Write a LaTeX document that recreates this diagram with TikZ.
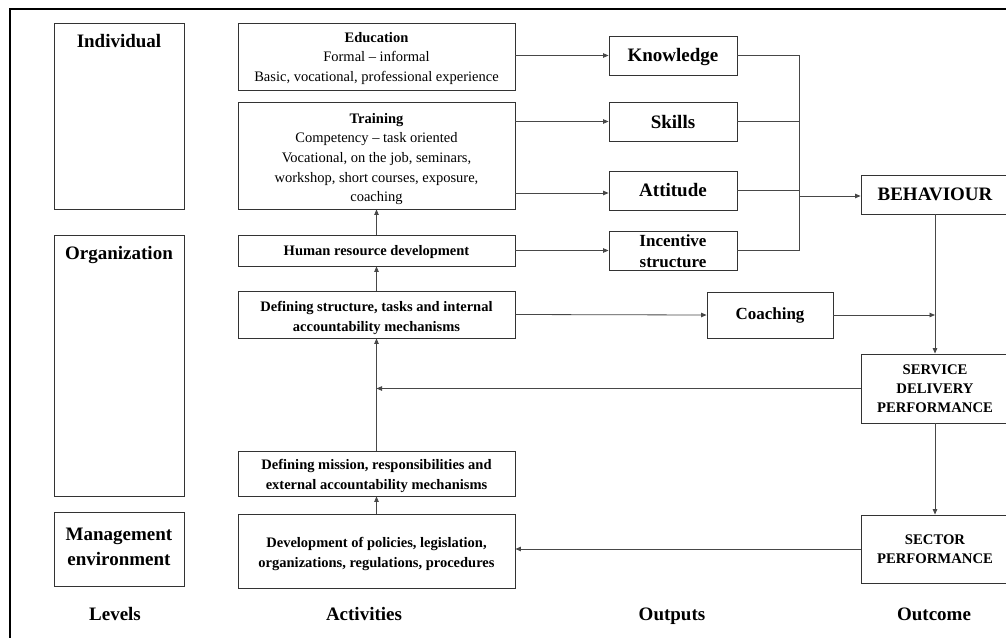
\documentclass[tikz,border=0pt]{standalone}
\usepackage{fontspec}
\setmainfont{Liberation Serif}
\usetikzlibrary{arrows.meta}

% strut that lowers a block of centred lines a little
\newcommand\topstrut[1]{\rule{0pt}{#1}}

\tikzset{
  box/.style={draw=black!80, line width=0.9pt, inner sep=1pt, align=center},
  bodytxt/.style={font=\fontsize{14.5pt}{19.6pt}\selectfont},
  boldtxt/.style={font=\fontsize{14.5pt}{20pt}\selectfont\bfseries},
  bigtxt/.style={font=\fontsize{19pt}{25pt}\selectfont\bfseries},
  midtxt/.style={font=\fontsize{17pt}{21pt}\selectfont\bfseries},
  captxt/.style={font=\fontsize{14.7pt}{19pt}\selectfont\bfseries},
  lvbox/.style={box, minimum width=130pt},
  actbox/.style={box, minimum width=277pt},
  outbox/.style={box, minimum width=128pt, minimum height=39pt},
  endbox/.style={box, minimum width=148pt},
  lvtitle/.style={bigtxt, anchor=north, inner sep=0pt, yshift=-11.5pt},
  conn/.style={draw=black!72, line width=0.8pt},
  arr/.style={conn, -{Triangle[length=5.5pt,width=4.5pt]}},
  frame/.style={draw=black, line width=1.6pt},
  colhead/.style={bigtxt, inner sep=0pt, anchor=base},
}

\begin{document}
\begin{tikzpicture}[x=1pt, y=-1pt]
\useasboundingbox (0,0) rectangle (1006,637);
\clip (0,0) rectangle (1006,637);

% outer frame
\draw[frame] (10,660) -- (10,9) -- (1030,9);

% levels
\node[lvbox, minimum height=186pt,
      label={[lvtitle]north:Individual}] (ind) at (119,116) {};
\node[lvbox, minimum height=261pt,
      label={[lvtitle]north:Organization}] (org) at (119,365.5) {};
\node[lvbox, minimum height=74pt, bigtxt] (mgt) at (119,549.5)
      {Management\\environment\rule[-6pt]{0pt}{6pt}};

% activities
\node[actbox, minimum height=67pt, bodytxt] (edu) at (376.5,56.5)
      {\topstrut{14pt}\textbf{Education}\\Formal -- informal\\Basic, vocational, professional experience};
\node[actbox, minimum height=107pt, bodytxt] (train) at (376.5,155.5)
      {\topstrut{17pt}\textbf{Training}\\Competency -- task oriented\\Vocational, on the job, seminars,\\workshop, short courses, exposure,\\coaching};
\node[actbox, minimum height=31pt, boldtxt] (hrd) at (376.5,250.5)
      {\topstrut{14pt}Human resource development};
\node[actbox, minimum height=47pt, boldtxt] (dstr) at (376.5,314.5)
      {\topstrut{17pt}Defining structure, tasks and internal\\accountability mechanisms};
\node[actbox, minimum height=45pt, boldtxt] (dmis) at (376.5,473.5)
      {\topstrut{16pt}Defining mission, responsibilities and\\external accountability mechanisms};
\node[actbox, minimum height=74pt, boldtxt] (dpol) at (376.5,551)
      {\topstrut{16pt}Development of policies, legislation,\\organizations, regulations, procedures};

% outputs
\node[outbox, bigtxt] (know) at (673,55.5) {\topstrut{17pt}Knowledge};
\node[outbox, bigtxt] (skills) at (673,121.5) {Skills};
\node[outbox, bigtxt] (att) at (673,190.5) {Attitude};
\node[outbox, midtxt] (inc) at (673,250.5) {\topstrut{14pt}Incentive\\structure};
\node[box, minimum width=126pt, minimum height=46pt, midtxt] (coach) at (770,315) {Coaching};

% outcome
\node[endbox, minimum height=39pt, bigtxt] (beh) at (935,194.5) {BEHAVIOUR};
\node[endbox, minimum height=69pt, captxt] (sdp) at (935,388.5)
      {SERVICE\\DELIVERY\\PERFORMANCE};
\node[endbox, minimum height=68pt, captxt] (sec) at (935,549)
      {SECTOR\\PERFORMANCE};

% column headings
\node[colhead] (hLev) at (115,620) {Levels};
\node[colhead] (hAct) at (364,620) {Activities};
\node[colhead] (hOut) at (672,620) {Outputs};
\node[colhead] (hOc) at (934,620) {Outcome};

% activities to outputs
\draw[arr] (edu.east |- know.west) -- (know.west);
\draw[arr] (train.east |- skills.west) -- (skills.west);
\draw[arr] ([yshift=-2.5pt]train.east |- att.west) -- ([yshift=-2.5pt]att.west);
\draw[arr] (hrd.east) -- (inc.west);
\draw[arr] (dstr.east) -- (coach.west);

% outputs gathered into behaviour
\coordinate (brk) at (799,56);
\draw[conn] (know.east) -| (inc.east -| brk) -- (inc.east);
\draw[conn] (skills.east) -- (skills.east -| brk);
\draw[conn] (att.east) -- (att.east -| brk);
\draw[arr] ([yshift=-1.5pt]beh.west -| brk) -- ([yshift=-1.5pt]beh.west);

% outcome chain
\draw[arr] (coach.east) -- (coach.east -| beh.south);
\draw[arr] (beh.south) -- (sdp.north);
\draw[arr] (sdp.south) -- (sec.north);

% feedback to activities
\draw[arr] (sdp.west) -- (sdp.west -| hrd.south);
\draw[arr] (sec.west) -- (sec.west -| dpol.east);

% upward chain of activities
\draw[arr] (dpol.north) -- (dmis.south);
\draw[arr] (dmis.north) -- (dstr.south);
\draw[arr] (dstr.north) -- (hrd.south);
\draw[arr] (hrd.north) -- (train.south);
\end{tikzpicture}
\end{document}
